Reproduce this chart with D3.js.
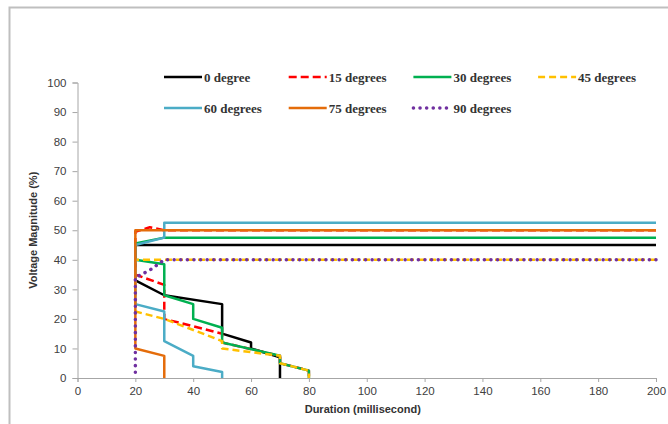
<!DOCTYPE html>
<html>
<head>
<meta charset="utf-8">
<script src="https://cdn.jsdelivr.net/npm/d3@7"></script>
<style>
  body { margin: 0; background: #fff; }
  svg { display: block; }
</style>
</head>
<body>
<div id="maViz"></div>
<script>
// donnees : [duree (ms), tension (%)]
const seriesNames = ["0 degree", "15 degrees", "30 degrees", "45 degrees", "60 degrees", "75 degrees", "90 degrees"];

const deg0  = [[200,45],[20,45],[20,33],[30,28],[50,25],[50,15],[60,12],[60,10],[70,7],[70,0]];
const deg15 = [[200,50],[30,50],[25,51],[20,49.5],[20,35],[30,31.5],[30,20],[50,15],[50,12],[70,7.5],[70,5],[80,2.5],[80,0]];
const deg30 = [[200,47.5],[30,47.5],[20,45.5],[20,40],[30,38.5],[30,28],[40,25],[40,20],[50,17],[50,12],[70,7.5],[70,5],[80,2.5],[80,0]];
const deg45 = [[200,40],[20,40],[20,22.5],[30,20],[50,12.5],[50,10],[70,7.5],[70,5],[80,2.5],[80,0]];
const deg60 = [[200,52.5],[30,52.5],[30,47.5],[20,45],[20,25],[30,22.5],[30,12.5],[40,7.5],[40,4],[50,2],[50,0]];
const deg75 = [[200,50],[20,50],[20,10],[30,7.5],[30,0]];
const deg90 = [[200,40],[30,40],[25,36.5],[20,34],[20,0]];

const xTicks = [0, 20, 40, 60, 80, 100, 120, 140, 160, 180, 200];
const yTicks = [0, 10, 20, 30, 40, 50, 60, 70, 80, 90, 100];

// styles des series (ordre = legende)
const colors = ["#000000", "#ff0000", "#00b050", "#ffc000", "#4bacc6", "#e46c0a", "#7030a0"];
const dashes = [null, "8,4", null, "7,4", null, null, "0.1,6.5"];

const allSeries = [deg0, deg15, deg30, deg45, deg60, deg75, deg90];

// dimensions
const W = 668, H = 424;
const margin = {top: 82.5, right: 12, bottom: 46, left: 77.5};
const width = W - margin.left - margin.right;
const height = H - margin.top - margin.bottom;

const svg = d3.select("#maViz")
  .append("svg")
    .attr("width", W)
    .attr("height", H);

// cadre du graphique (coupe a droite et en bas)
svg.append("rect")
  .attr("x", 9.5).attr("y", 7.5)
  .attr("width", W + 20).attr("height", H + 20)
  .attr("fill", "none")
  .attr("stroke", "#bfbfbf")
  .attr("stroke-width", 2);

const g = svg.append("g")
  .attr("transform", `translate(${margin.left},${margin.top})`);

const x = d3.scaleLinear().domain([0, 200]).range([0, width]);
const y = d3.scaleLinear().domain([0, 100]).range([height, 0]);

// axe X
const xAxis = g.append("g")
  .attr("transform", `translate(0,${height})`)
  .call(d3.axisBottom(x).tickValues(xTicks).tickSize(4).tickPadding(5));

// axe Y
const yAxis = g.append("g")
  .call(d3.axisLeft(y).tickValues(yTicks).tickSize(5).tickPadding(6));

[xAxis, yAxis].forEach(a => {
  a.select(".domain").attr("stroke", "#a6a6a6").attr("stroke-width", 1);
  a.selectAll(".tick line").attr("stroke", "#a6a6a6");
  a.selectAll(".tick text")
    .attr("fill", "#404040")
    .style("font-family", "'Liberation Sans', Arial, sans-serif")
    .style("font-size", "11.5px");
});

// titres des axes
svg.append("text")
  .attr("x", margin.left + width / 2 - 4)
  .attr("y", 413)
  .attr("text-anchor", "middle")
  .style("font-family", "'Liberation Sans', Arial, sans-serif")
  .style("font-size", "11px")
  .style("font-weight", "bold")
  .attr("fill", "#333")
  .text("Duration (millisecond)");

svg.append("text")
  .attr("transform", `translate(37,${margin.top + height / 2}) rotate(-90)`)
  .attr("text-anchor", "middle")
  .style("font-family", "'Liberation Sans', Arial, sans-serif")
  .style("font-size", "11px")
  .style("font-weight", "bold")
  .attr("fill", "#333")
  .text("Voltage Magnitude (%)");

// courbes
const line = d3.line()
  .x(d => x(d[0]))
  .y(d => y(d[1]));

const curves = g.append("g");
curves.selectAll("path")
  .data(allSeries)
  .join("path")
    .attr("d", line)
    .attr("fill", "none")
    .attr("stroke", (d, i) => colors[i])
    .attr("stroke-width", (d, i) => i === 6 ? 3.5 : 2.5)
    .attr("stroke-dasharray", (d, i) => dashes[i])
    .attr("stroke-linecap", (d, i) => i === 6 ? "round" : "butt")
    .attr("stroke-linejoin", "round");

// legende (2 lignes)
const legend = svg.append("g");
const legItems = legend.selectAll("g")
  .data(seriesNames)
  .join("g")
    .attr("transform", (d, i) => {
      const col = i < 4 ? i : i - 4;
      const row = i < 4 ? 0 : 1;
      return `translate(${164 + col * 124.7},${77 + row * 31})`;
    });

legItems.append("line")
  .attr("x1", 0).attr("x2", 38)
  .attr("y1", 0).attr("y2", 0)
  .attr("stroke", (d, i) => colors[i])
  .attr("stroke-width", (d, i) => i === 6 ? 3.5 : 2.5)
  .attr("stroke-dasharray", (d, i) => dashes[i])
  .attr("stroke-linecap", (d, i) => i === 6 ? "round" : "butt");

legItems.append("text")
  .attr("x", 40)
  .attr("y", 0)
  .attr("dy", "0.35em")
  .style("font-family", "'Liberation Serif', serif")
  .style("font-size", "13px")
  .style("font-weight", "bold")
  .attr("fill", "#333")
  .text(d => d);
</script>
</body>
</html>
